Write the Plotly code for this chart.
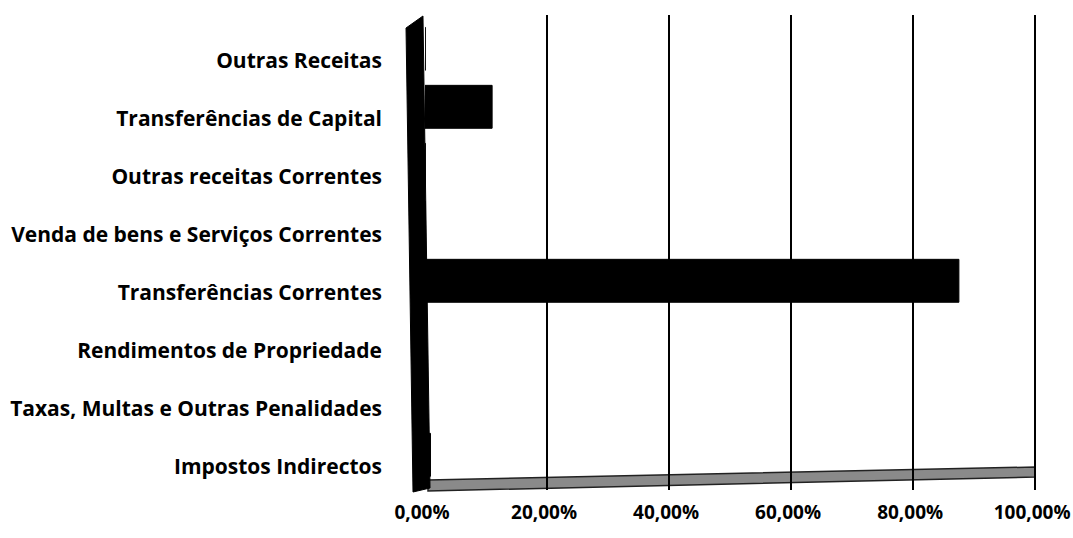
import plotly.graph_objects as go

categories = [
    "Impostos Indirectos",
    "Taxas, Multas e Outras Penalidades",
    "Rendimentos de Propriedade",
    "Transferências Correntes",
    "Venda de bens e Serviços Correntes",
    "Outras receitas Correntes",
    "Transferências de Capital",
    "Outras Receitas",
]
values = [0.9, 0.05, 0.05, 87.5, 0.05, 0.05, 11.0, 0.05]

tick_vals = [0, 20, 40, 60, 80, 100]
tick_text = ["0,00%", "20,00%", "40,00%", "60,00%", "80,00%", "100,00%"]

FONT = "Open Sans"
W, H = 1073, 538
L, R, T, B = 425, 1037, 15, 490


def px(x, y):
    return (x - L) / (R - L), (B - y) / (B - T)


def poly(points):
    parts = []
    for i, (x, y) in enumerate(points):
        a, b = px(x, y)
        parts.append(("M" if i == 0 else "L") + f" {a:.4f} {b:.4f}")
    return " ".join(parts) + " Z"


fig = go.Figure()
fig.add_trace(go.Bar(
    y=list(range(len(categories))),
    x=values,
    orientation="h",
    marker=dict(color="black", line=dict(color="black", width=1)),
    width=0.74,
    offset=-0.16,
    showlegend=False,
))

shapes = [
    # floor
    dict(type="path", xref="paper", yref="paper",
         path=poly([(428, 480), (1035, 467), (1035, 477), (428, 491)]),
         fillcolor="#8a8a8a", line=dict(color="#222", width=1.5), layer="below"),
    # left wall
    dict(type="path", xref="paper", yref="paper",
         path=poly([(406, 28), (423, 16), (430, 488), (413, 492)]),
         fillcolor="black", line=dict(color="black", width=1), layer="above"),
]

fig.update_layout(
    width=W, height=H,
    margin=dict(l=L, r=W - R, t=T, b=H - B),
    paper_bgcolor="white", plot_bgcolor="white",
    font=dict(family=FONT, color="black", size=17),
    shapes=shapes,
    xaxis=dict(
        range=[0, 100.3], tickvals=tick_vals, ticktext=tick_text,
        showgrid=True, gridcolor="black", gridwidth=2,
        zeroline=False, showline=False, ticks="",
        ticklabelstandoff=9, ticklabelshift=-3, automargin=False,
        ticklabeloverflow="allow",
        tickfont=dict(family=FONT, size=19, color="black", weight="bold"),
        fixedrange=True,
    ),
    yaxis=dict(
        range=[-0.397, 7.793],
        tickvals=list(range(len(categories))), ticktext=categories,
        showgrid=False, zeroline=False, showline=False, ticks="",
        ticklabelstandoff=42, automargin=False,
        tickfont=dict(family=FONT, size=21, color="black", weight="bold"),
        fixedrange=True,
    ),
)

fig.write_html(
    "out.html",
    config={"displayModeBar": False},
    post_script="document.body.style.margin='0';document.body.style.padding='0';",
)
